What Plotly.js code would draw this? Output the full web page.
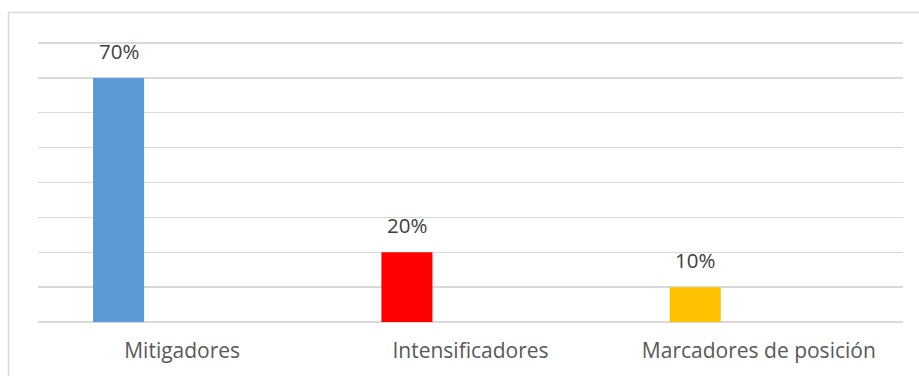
<!DOCTYPE html>
<html>
<head>
<meta charset="utf-8">
<script src="https://cdn.plot.ly/plotly-3.0.1.min.js"></script>
<style>html,body{margin:0;padding:0;background:#fff;}#chart{width:919px;height:376px;}</style>
</head>
<body>
<div id="chart"></div>
<script>
const categories = ["Mitigadores", "Intensificadores", "Marcadores de posición"];
const values = [70, 20, 10];
const labels = ["70%", "20%", "10%"];
const colors = ["#5B9BD5", "#FF0000", "#FFC000"];

const barOffset = -0.309;
const barWidth = 0.177;

const trace = {
  type: "bar",
  x: categories,
  y: values,
  marker: {color: colors, line: {width: 0}},
  width: barWidth,
  offset: barOffset,
  hoverinfo: "none"
};

const annotations = categories.map((c, i) => ({
  x: c, y: values[i], xref: "x", yref: "y",
  text: labels[i], showarrow: false,
  xshift: (barOffset + barWidth / 2) * 288.3,
  yanchor: "bottom", yshift: 11,
  font: {family: "Open Sans, sans-serif", size: 20.5, color: "#404040"}
}));

const layout = {
  width: 919, height: 376,
  margin: {l: 38, r: 16, t: 42, b: 54},
  paper_bgcolor: "#ffffff",
  plot_bgcolor: "#ffffff",
  showlegend: false,
  font: {family: "Open Sans, sans-serif", color: "#595959"},
  xaxis: {
    type: "category",
    showgrid: false,
    showline: false,
    ticks: "",
    tickfont: {size: 21, color: "#595959"},
    ticklabelstandoff: 14,
    range: [-0.5, 2.5],
    fixedrange: true
  },
  yaxis: {
    range: [0, 80.3],
    tickvals: [0, 10, 20, 30, 40, 50, 60, 70, 80],
    showticklabels: false,
    showgrid: true,
    gridcolor: "#d9d9d9",
    gridwidth: 1.3,
    zeroline: true,
    zerolinecolor: "#d9d9d9",
    zerolinewidth: 1.3,
    showline: false,
    ticks: "",
    fixedrange: true
  },
  annotations: annotations,
  shapes: [{
    type: "rect", xref: "paper", yref: "paper",
    x0: -0.0341, x1: 1.2, y0: -0.4, y1: 1.1057,
    line: {color: "#d9d9d9", width: 1.5},
    fillcolor: "rgba(0,0,0,0)",
    layer: "below"
  }]
};

Plotly.newPlot("chart", [trace], layout, {displayModeBar: false, staticPlot: true});
</script>
</body>
</html>
